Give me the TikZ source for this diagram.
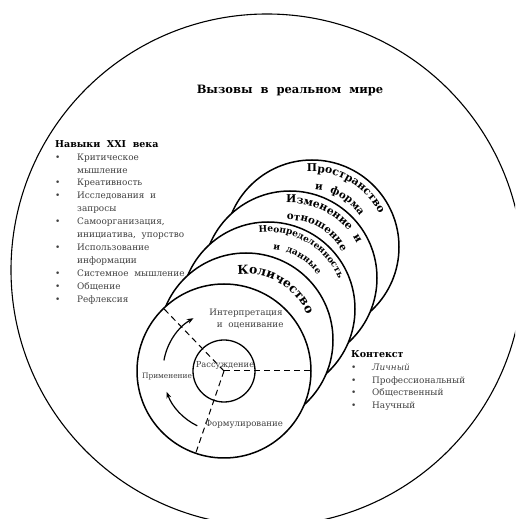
\documentclass[tikz,border=0pt]{standalone}
\usepackage{fontspec}
\setmainfont{DejaVu Serif}
\usetikzlibrary{decorations.text,arrows.meta}

\begin{document}
\begin{tikzpicture}[x=1pt,y=1pt,
    ring/.style={circle,draw,fill=white,line width=1.5pt,minimum size=174pt,inner sep=0pt},
    core/.style={circle,draw,line width=1.3pt,minimum size=62pt,inner sep=0pt},
    small text/.style={font=\fontsize{8.3}{10}\selectfont,text=black!75,inner sep=0pt},
    list text/.style={font=\fontsize{8.9}{12.9}\selectfont,text=black!75,inner sep=0pt,anchor=north west},
    title text/.style={font=\bfseries\fontsize{11.5}{13}\selectfont},
    dash line/.style={line width=1pt,dash pattern=on 6pt off 4pt},
    cycle arrow/.style={line width=1.2pt,-{Stealth[length=6.5pt,width=5pt]}},
    arc label/.style n args={2}{decorate,decoration={text along path,text align=center,
        text={|\bfseries\fontsize{#1}{#1}\selectfont|#2}}}]

  \clip (0,0) rectangle (515,519);

  % real world
  \node[circle,draw,line width=1.1pt,minimum size=512pt,inner sep=0pt] (world) at (267,249) {};
  \node[title text] (title) at (290,428) {Вызовы\ \ в\ \ реальном\ \ мире};

  % content areas, back to front
  \node[ring] (space) at (312,272) {};
  \node[ring] (change) at (290,241) {};
  \node[ring] (uncert) at (268,210) {};
  \node[ring] (qty) at (246,179) {};
  \node[ring] (front) at (224,148) {};
  \node[core] (reason) at (224,148) {};

  \path[arc label={10.8}{Пространство}] ([shift={(120:75)}]space.center) arc[start angle=120,end angle=0,radius=75];
  \path[arc label={10.3}{и\ \ форма}] ([shift={(120:57)}]space.center) arc[start angle=120,end angle=0,radius=57];
  \path[arc label={10.8}{Изменение\ \ и}] ([shift={(120:75)}]change.center) arc[start angle=120,end angle=0,radius=75];
  \path[arc label={10.3}{отношение}] ([shift={(120:58)}]change.center) arc[start angle=120,end angle=0,radius=58];
  \path[arc label={9}{Неопределенность}] ([shift={(120:77)}]uncert.center) arc[start angle=120,end angle=0,radius=77];
  \path[arc label={9}{и\ \ данные}] ([shift={(120:60)}]uncert.center) arc[start angle=120,end angle=0,radius=60];
  \path[arc label={12.3}{Количество}] ([shift={(120:66)}]qty.center) arc[start angle=120,end angle=0,radius=66];

  % process cycle
  \draw[dash line] (front.center) -- (front.0);
  \draw[dash line] (front.center) -- (front.134);
  \draw[dash line] (front.center) -- (front.251);
  \draw[cycle arrow] ([shift={(170:61)}]front.center) arc[start angle=170,end angle=120,radius=61];
  \draw[cycle arrow] ([shift={(244:61)}]front.center) arc[start angle=244,end angle=200,radius=61];

  \node[small text,align=center,font=\fontsize{8.8}{11}\selectfont] (interp) at (246,200) {Интерпретация\\[1pt]\ \ \ и\ \ оценивание};
  \node[small text] (reasonlabel) at (225,154) {Рассуждение};
  \node[small text,font=\fontsize{7.4}{9}\selectfont] (apply) at (167,142) {Применение};
  \node[small text,font=\fontsize{8.6}{10}\selectfont] (formul) at (244,95) {Формулирование};

  % 21st century skills
  \node[list text] (skills) at (55,381) {%
    \begin{tabular}{@{}p{22pt}@{}l@{}}
      \multicolumn{2}{@{}l@{}}{\color{black}\bfseries\fontsize{9.5}{12.9}\selectfont Навыки\ \ XXI\ \ века}\\
      \textbullet & Критическое\\
       & мышление\\
      \textbullet & Креативность\\
      \textbullet & Исследования\ \ и\\
       & запросы\\
      \textbullet & Самоорганизация,\\
       & инициатива,\ \ упорство\\
      \textbullet & Использование\\
       & информации\\
      \textbullet & Системное\ \ мышление\\
      \textbullet & Общение\\
      \textbullet & Рефлексия
    \end{tabular}};

  % context
  \node[list text] (context) at (351,171) {%
    \begin{tabular}{@{}p{21pt}@{}l@{}}
      \multicolumn{2}{@{}l@{}}{\color{black}\bfseries\fontsize{9.5}{12.9}\selectfont Контекст}\\
      \textbullet & \itshape Личный\\
      \textbullet & Профессиональный\\
      \textbullet & Общественный\\
      \textbullet & Научный
    \end{tabular}};
\end{tikzpicture}
\end{document}
